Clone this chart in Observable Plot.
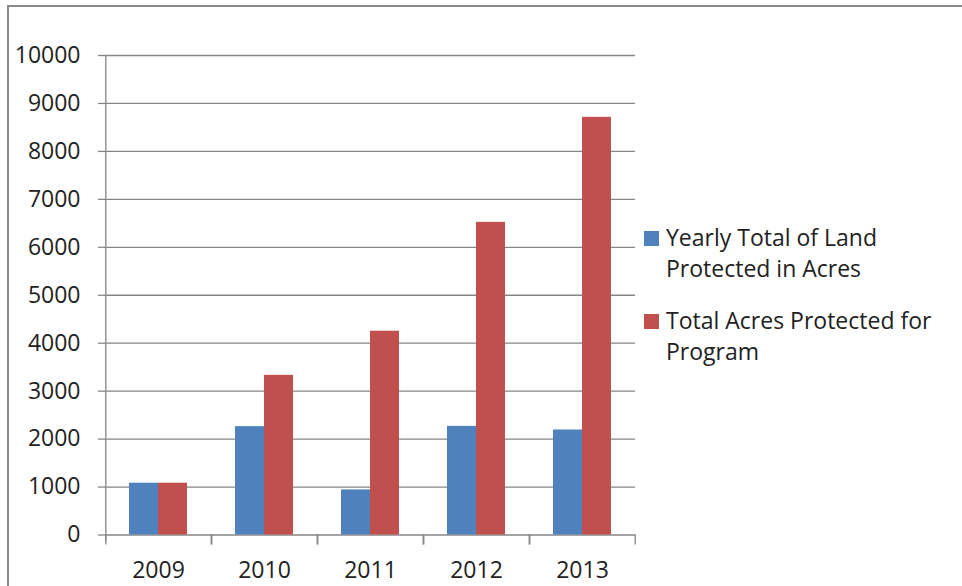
<!DOCTYPE html>
<html>
<head>
<meta charset="utf-8">
<script src="https://cdn.jsdelivr.net/npm/d3@7"></script>
<script src="https://cdn.jsdelivr.net/npm/@observablehq/plot@0.6"></script>
<style>
  html, body { margin: 0; padding: 0; background: #fff; overflow: hidden; }
  #wrap { position: relative; width: 962px; height: 586px; overflow: hidden; font-family: "Open Sans", sans-serif; }
  #frame { position: absolute; left: 7px; top: 5px; width: 1000px; height: 700px; border-top: 2px solid #8a8a8a; border-left: 2px solid #8a8a8a; }
  #chart { position: absolute; left: 0; top: 0; }
  #legend { position: absolute; left: 644px; top: 222px; width: 310px; font-size: 23px; line-height: 31px; color: #222; }
  .item { display: flex; align-items: flex-start; margin-bottom: 21px; }
  .sw { width: 15px; height: 15px; margin-top: 9px; margin-right: 7px; flex: none; }
  .lab { white-space: pre-line; }
</style>
</head>
<body>
<div id="wrap">
  <div id="frame"></div>
  <div id="chart"></div>
  <div id="legend"></div>
</div>
<script>
const years = ["2009", "2010", "2011", "2012", "2013"];
const seriesNames = ["Yearly Total of Land Protected in Acres", "Total Acres Protected for Program"];
const legendLines = ["Yearly Total of Land\nProtected in Acres", "Total Acres Protected for\nProgram"];
const yearlyAcres = [1080, 2260, 940, 2265, 2190];
const totalAcres = [1080, 3330, 4250, 6520, 8710];
const yTicks = [0, 1000, 2000, 3000, 4000, 5000, 6000, 7000, 8000, 9000, 10000];
const seriesColors = ["#4F81BD", "#C0504D"];

const data = years.flatMap((year, i) => [
  {year, series: seriesNames[0], value: yearlyAcres[i]},
  {year, series: seriesNames[1], value: totalAcres[i]}
]);

const gridColor = "#868686";
const edge = 38.2;

const chart = Plot.plot({
  width: 962,
  height: 586,
  marginLeft: 104,
  marginRight: 326,
  marginTop: 55,
  marginBottom: 51.5,
  style: {fontFamily: "Open Sans, sans-serif", fontSize: "23px", color: "#222", background: "transparent", overflow: "visible"},
  fx: {domain: years, padding: 0, label: null},
  x: {domain: seriesNames, paddingInner: 0, paddingOuter: 0.777, axis: null},
  y: {domain: [0, 10000], label: null},
  color: {domain: seriesNames, range: seriesColors},
  marks: [
    Plot.gridY(yTicks, {stroke: gridColor, strokeOpacity: 1, strokeWidth: 1.3}),
    Plot.axisY(yTicks, {tickSize: 7, text: null, stroke: gridColor, strokeOpacity: 1, strokeWidth: 1.3, label: null}),
    Plot.axisY(yTicks, {tickSize: 0, tickPadding: 25, tickFormat: d => String(d), fill: "#222", label: null}),
    Plot.axisFx({anchor: "bottom", tickSize: 0, tickPadding: 27, fill: "#222", label: null}),
    Plot.barY(data, {fx: "year", x: "series", y: "value", fill: "series"}),
    Plot.ruleX(years, {fx: d => d, x: () => seriesNames[0], dx: -edge, y1: 0, y2: 0, insetBottom: -10, stroke: gridColor, strokeWidth: 1.3}),
    Plot.ruleX(years, {fx: d => d, x: () => seriesNames[1], dx: edge, y1: 0, y2: 0, insetBottom: -10, stroke: gridColor, strokeWidth: 1.3}),
    Plot.ruleX([years[0]], {fx: d => d, x: () => seriesNames[0], dx: -edge, y1: 10000, y2: 0, insetBottom: -7, stroke: gridColor, strokeWidth: 1.3})
  ]
});
document.getElementById("chart").appendChild(chart);

const legend = document.getElementById("legend");
seriesNames.forEach((name, i) => {
  const item = document.createElement("div");
  item.className = "item";
  const sw = document.createElement("div");
  sw.className = "sw";
  sw.style.background = seriesColors[i];
  const lab = document.createElement("div");
  lab.className = "lab";
  lab.textContent = legendLines[i];
  item.appendChild(sw);
  item.appendChild(lab);
  legend.appendChild(item);
});
</script>
</body>
</html>
